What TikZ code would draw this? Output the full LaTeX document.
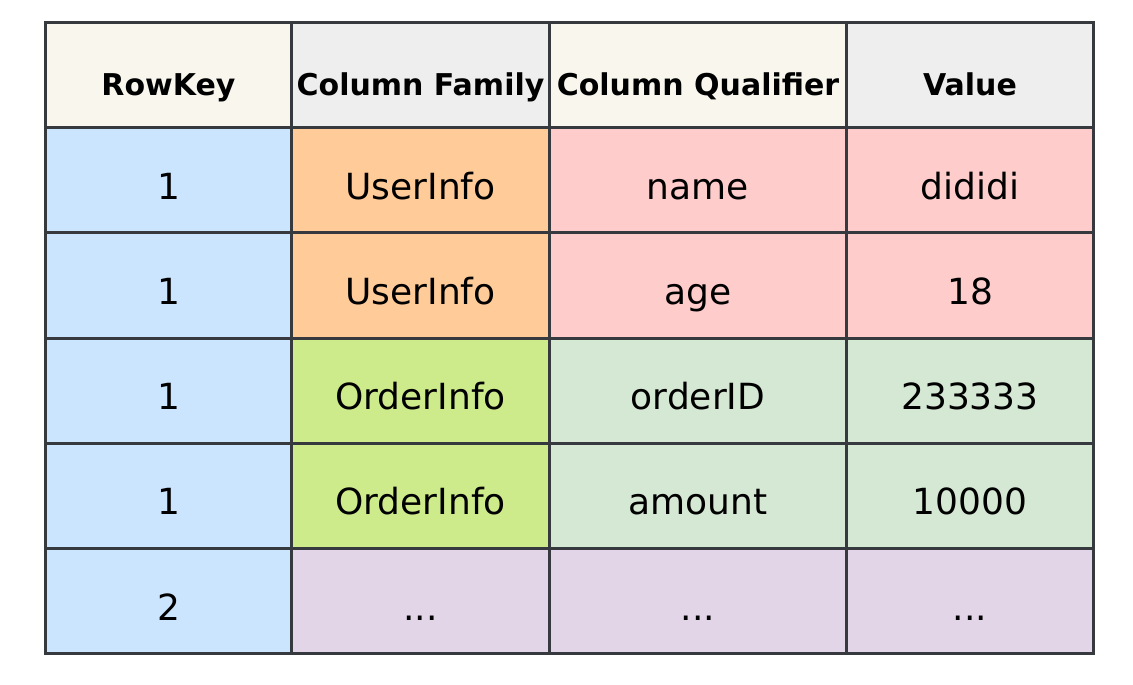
\documentclass[tikz,border=0pt]{standalone}
\usepackage{fontspec}
\setmainfont{DejaVu Sans}
\definecolor{grid}{HTML}{36393D}
\definecolor{cream}{HTML}{F9F7ED}
\definecolor{lgray}{HTML}{EEEEEE}
\definecolor{keyblue}{HTML}{CCE5FF}
\definecolor{orangec}{HTML}{FFCC99}
\definecolor{pinkc}{HTML}{FFCCCC}
\definecolor{limec}{HTML}{CDEB8B}
\definecolor{mintc}{HTML}{D5E8D4}
\definecolor{lilac}{HTML}{E1D5E7}
\tikzset{
  cell/.style={draw=grid, line width=3pt, rectangle, anchor=north west, inner sep=0pt,
    minimum height=105.2pt, text height=38pt, text depth=0pt,
    font=\fontsize{36}{40}\selectfont, text=black},
  c1/.style={cell, minimum width=246pt},
  c2/.style={cell, minimum width=258pt},
  c3/.style={cell, minimum width=297pt},
  c4/.style={cell, minimum width=247pt},
  head/.style={font=\fontsize{30}{34}\selectfont\bfseries, text height=40pt}
}
\begin{document}
\begin{tikzpicture}[x=1pt,y=-1pt]
\useasboundingbox (0,0) rectangle (1133,685);
% header
\node[c1,fill=cream,head] (h1) at (44,21) {RowKey};
\node[c2,fill=lgray,head] (h2) at (290,21) {Column Family};
\node[c3,fill=cream,head] (h3) at (548,21) {Column Qualifier};
\node[c4,fill=lgray,head] (h4) at (845,21) {Value};
% row 1
\node[c1,fill=keyblue] (r1a) at (44,126.2) {1};
\node[c2,fill=orangec] (r1b) at (290,126.2) {UserInfo};
\node[c3,fill=pinkc] (r1c) at (548,126.2) {name};
\node[c4,fill=pinkc] (r1d) at (845,126.2) {dididi};
% row 2
\node[c1,fill=keyblue] (r2a) at (44,231.4) {1};
\node[c2,fill=orangec] (r2b) at (290,231.4) {UserInfo};
\node[c3,fill=pinkc] (r2c) at (548,231.4) {age};
\node[c4,fill=pinkc] (r2d) at (845,231.4) {18};
% row 3
\node[c1,fill=keyblue] (r3a) at (44,336.6) {1};
\node[c2,fill=limec] (r3b) at (290,336.6) {OrderInfo};
\node[c3,fill=mintc] (r3c) at (548,336.6) {orderID};
\node[c4,fill=mintc] (r3d) at (845,336.6) {233333};
% row 4
\node[c1,fill=keyblue] (r4a) at (44,441.8) {1};
\node[c2,fill=limec] (r4b) at (290,441.8) {OrderInfo};
\node[c3,fill=mintc] (r4c) at (548,441.8) {amount};
\node[c4,fill=mintc] (r4d) at (845,441.8) {10000};
% row 5
\node[c1,fill=keyblue] (r5a) at (44,547) {2};
\node[c2,fill=lilac] (r5b) at (290,547) {...};
\node[c3,fill=lilac] (r5c) at (548,547) {...};
\node[c4,fill=lilac] (r5d) at (845,547) {...};
\end{tikzpicture}
\end{document}
